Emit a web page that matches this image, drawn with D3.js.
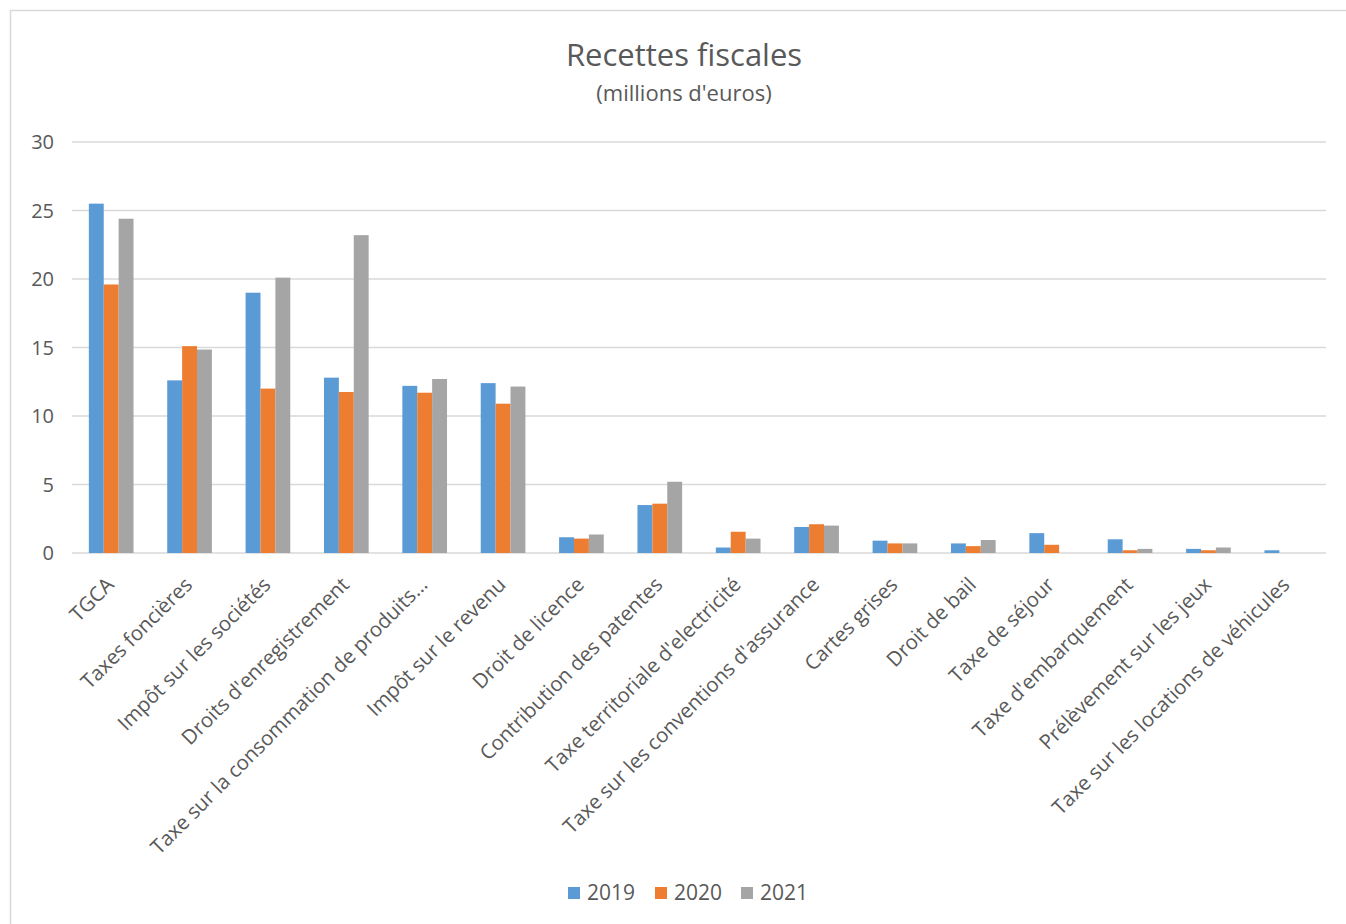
<!DOCTYPE html>
<html>
<head>
<meta charset="utf-8">
<script src="https://cdn.jsdelivr.net/npm/d3@7"></script>
<style>
  body { margin: 0; background: #fff; }
  text { font-family: "Open Sans", "DejaVu Sans", sans-serif; fill: #595959; }
</style>
</head>
<body>
<svg id="chart" width="1346" height="924"></svg>
<script>
var categories = [
  'TGCA', 'Taxes foncières', 'Impôt sur les sociétés', "Droits d'enregistrement",
  'Taxe sur la consommation de produits…', 'Impôt sur le revenu', 'Droit de licence',
  'Contribution des patentes', "Taxe territoriale d'electricité",
  "Taxe sur les conventions d'assurance", 'Cartes grises', 'Droit de bail',
  'Taxe de séjour', "Taxe d'embarquement", 'Prélèvement sur les jeux',
  'Taxe sur les locations de véhicules'
];
var series = ['2019', '2020', '2021'];
var values2019 = [25.5, 12.6, 19.0, 12.8, 12.2, 12.4, 1.15, 3.5, 0.4, 1.9, 0.9, 0.7, 1.45, 1.0, 0.3, 0.2];
var values2020 = [19.6, 15.1, 12.0, 11.75, 11.7, 10.9, 1.05, 3.6, 1.55, 2.1, 0.7, 0.5, 0.6, 0.2, 0.2, 0];
var values2021 = [24.4, 14.85, 20.1, 23.2, 12.7, 12.15, 1.35, 5.2, 1.05, 2.0, 0.7, 0.95, 0, 0.3, 0.4, 0];
var yTicks = [0, 5, 10, 15, 20, 25, 30];
var colors = ['#5B9BD5', '#ED7D31', '#A5A5A5'];

var svg = d3.select('#chart');
var margin = { top: 142, left: 72 };
var width = 1326;
var height = 553;

// outer chart frame
svg.append('rect')
  .attr('x', 10.5).attr('y', 10.5)
  .attr('width', 1345).attr('height', 930)
  .attr('fill', 'none').attr('stroke', '#d9d9d9').attr('stroke-width', 1.5);

svg.append('text')
  .attr('x', 684).attr('y', 66)
  .attr('text-anchor', 'middle')
  .attr('font-size', '31px')
  .text('Recettes fiscales');

svg.append('text')
  .attr('x', 684).attr('y', 101)
  .attr('text-anchor', 'middle')
  .attr('font-size', '22px')
  .text("(millions d'euros)");

var x0 = d3.scaleBand().domain(categories).range([margin.left, width]).paddingInner(0.43).paddingOuter(0.215);
var x1 = d3.scaleBand().domain(series).range([0, x0.bandwidth()]);
var y = d3.scaleLinear().domain([0, 30]).range([height, margin.top]);

// gridlines
svg.append('g').selectAll('line')
  .data(yTicks)
  .join('line')
  .attr('x1', margin.left).attr('x2', width)
  .attr('y1', d => y(d)).attr('y2', d => y(d))
  .attr('stroke', '#d9d9d9').attr('stroke-width', 1.5);

svg.append('g').selectAll('text')
  .data(yTicks)
  .join('text')
  .attr('x', 54).attr('y', d => y(d))
  .attr('dy', '0.35em')
  .attr('text-anchor', 'end')
  .attr('font-size', '20px')
  .text(d => d);

var allValues = [values2019, values2020, values2021];
var groups = svg.append('g').selectAll('g')
  .data(series)
  .join('g')
  .attr('fill', (d, i) => colors[i]);

groups.selectAll('rect')
  .data((s, i) => categories.map((c, j) => ({ cat: c, s: s, v: allValues[i][j] })))
  .join('rect')
  .attr('x', d => x0(d.cat) + x1(d.s))
  .attr('width', x1.bandwidth())
  .attr('y', d => y(d.v))
  .attr('height', d => y(0) - y(d.v));

// category labels
svg.append('g').selectAll('text')
  .data(categories)
  .join('text')
  .attr('font-size', '20.4px')
  .attr('text-anchor', 'end')
  .attr('transform', d => 'translate(' + (x0(d) + x0.bandwidth() / 2 + 4) + ',' + 586 + ') rotate(-45)')
  .text(d => d);

// legend
var legendX = [568, 655, 741];
var legend = svg.append('g').selectAll('g')
  .data(series)
  .join('g')
  .attr('transform', (d, i) => 'translate(' + legendX[i] + ',887)');
legend.append('rect')
  .attr('width', 12).attr('height', 12)
  .attr('fill', (d, i) => colors[i]);
legend.append('text')
  .attr('x', 19).attr('y', 6)
  .attr('dy', '0.35em')
  .attr('font-size', '21px')
  .text(d => d);
</script>
</body>
</html>
